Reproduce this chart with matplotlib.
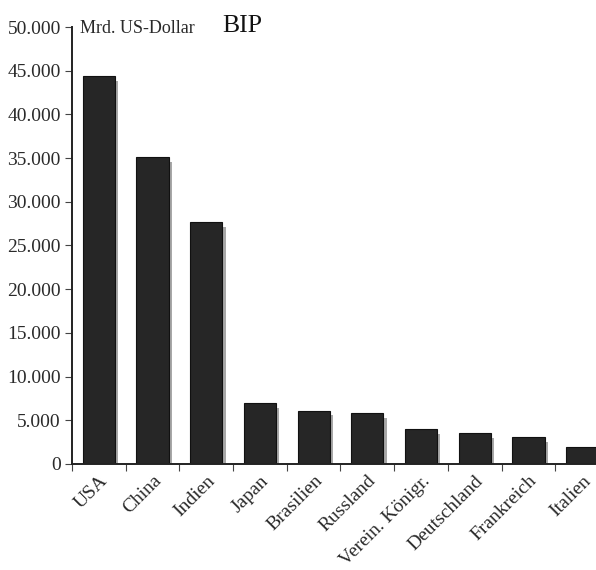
import matplotlib.pyplot as plt
import numpy as np

# BIP in Mrd. US-Dollar
countries = ["USA", "China", "Indien", "Japan", "Brasilien", "Russland",
             "Verein. Königr.", "Deutschland", "Frankreich", "Italien"]
gdp = [44400, 35100, 27700, 6950, 6100, 5850, 3950, 3500, 3100, 1950]
yticks = [0, 5000, 10000, 15000, 20000, 25000, 30000, 35000, 40000, 45000, 50000]
ytick_labels = ["0", "5.000", "10.000", "15.000", "20.000", "25.000",
                "30.000", "35.000", "40.000", "45.000", "50.000"]

plt.rcParams["font.family"] = ["Liberation Serif", "DejaVu Serif"]

fig = plt.figure(figsize=(5.96, 5.70), dpi=100)
ax = fig.add_axes([72 / 596, 106 / 570, 537 / 596, 437 / 570])

x = np.arange(len(countries)) + 0.5
# soft grey shadow right of each bar
ax.bar(x + 0.06, [v - 550 for v in gdp], width=0.6, color="#a8a8a8",
       linewidth=0, zorder=1)
ax.bar(x, gdp, width=0.6, color="#262626", edgecolor="#111111",
       linewidth=0.8, zorder=2)

ax.set_xlim(0, len(countries))
ax.set_ylim(0, 50000)

ax.set_yticks(yticks)
ax.set_yticklabels(ytick_labels, fontsize=14, color="#2a2a2a")
ax.set_xticks(np.arange(len(countries)))
ax.set_xticklabels([])
ax.set_xticks(x, minor=True)
ax.set_xticklabels(countries, minor=True, rotation=45, ha="right", va="top",
                   rotation_mode="anchor", fontsize=14, color="#2a2a2a")
ax.tick_params(axis="x", which="minor", length=0, pad=6)
ax.tick_params(axis="x", which="major", length=5, width=0.8, color="#444444")
ax.tick_params(axis="y", length=5, width=0.8, color="#444444", pad=3)

for s in ["top", "right"]:
    ax.spines[s].set_visible(False)
ax.spines["left"].set_linewidth(1.4)
ax.spines["bottom"].set_linewidth(1.4)
ax.spines["left"].set_color("#222222")
ax.spines["bottom"].set_color("#222222")

fig.text(80 / 596, 1 - 33 / 570, "Mrd. US-Dollar", fontsize=13,
         color="#2a2a2a", va="baseline", ha="left")
fig.text(222 / 596, 1 - 32 / 570, "BIP", fontsize=18.5,
         color="#111111", va="baseline", ha="left")

fig.savefig("out.png", dpi=100)
